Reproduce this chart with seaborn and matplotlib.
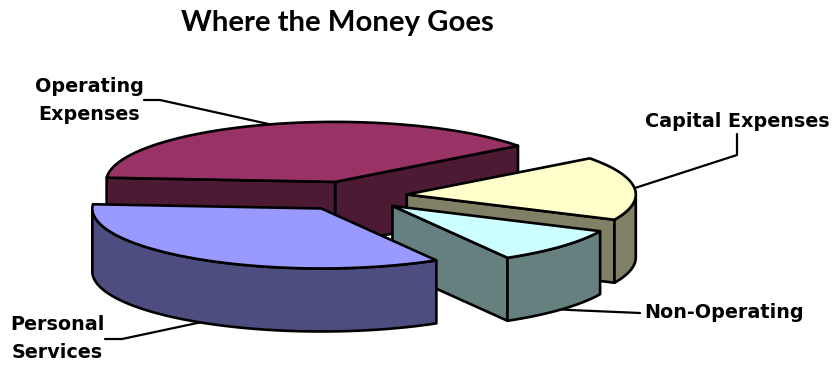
import numpy as np
import matplotlib
matplotlib.use("Agg")
import matplotlib.pyplot as plt
import seaborn as sns

# Budget shares, clockwise from the back-right of the pie
categories = ["Operating\nExpenses", "Capital Expenses", "Non-Operating", "Personal\nServices"]
shares = [38.6, 17.2, 9.7, 34.5]
top_colors = ["#993366", "#FFFFCC", "#CCFFFF", "#9999FF"]
side_colors = ["#4D1A33", "#808066", "#668080", "#4D4D80"]

# Elbows of the leader lines and label anchors, in figure pixels
elbows = [(160, 100), (737, 155), (570, 310), (122, 339)]
stubs = [(144, 100), (737, 134), (640, 313), (105, 339)]
label_pos = [(89, 101), (737, 122), (724, 313), (57, 339)]

WIDTH, HEIGHT = 834, 366
CENTER = (351, 196)      # pie centre in pixels
RX, RY = 229, 60         # projected radii in pixels
DEPTH = 63 / RY          # extrusion of the disc, in radii of the y axis
EXPLODE = 0.245
START_DEG = 37           # angle at which the first slice begins, counter-clockwise

sns.set_theme(style="white")
fig = plt.figure(figsize=(WIDTH / 100, HEIGHT / 100), dpi=100)
ax = fig.add_axes([0, 0, 1, 1])
ax.set_xlim(-CENTER[0] / RX, (WIDTH - CENTER[0]) / RX)
ax.set_ylim(-(HEIGHT - CENTER[1]) / RY, CENTER[1] / RY)
ax.axis("off")


def px(point):
    """Convert figure pixels (origin top-left) to disc coordinates."""
    return (point[0] - CENTER[0]) / RX, (CENTER[1] - point[1]) / RY


LW = 1.9
edge = dict(edgecolor="black", linewidth=LW, joinstyle="round")

spans = np.array(shares) / sum(shares) * 360

# Operating runs counter-clockwise from START_DEG, then Personal, Non-Operating, Capital
sequence = [0, 3, 2, 1]
bounds = {}
angle = START_DEG
for idx in sequence:
    bounds[idx] = (angle, angle + spans[idx])
    angle += spans[idx]

# Painter's order: back slice, right side, then the front slices
paint_order = [0, 1, 2, 3]


def draw_slice(idx):
    t0, t1 = np.radians(bounds[idx])
    mid = (t0 + t1) / 2
    cx, cy = EXPLODE * np.cos(mid), EXPLODE * np.sin(mid)
    t = np.linspace(t0, t1, 160)
    rim_x, rim_y = cx + np.cos(t), cy + np.sin(t)

    # Cut faces turned towards the viewer
    for a in (t0, t1):
        d = np.array([np.cos(a), np.sin(a)])
        cross = d[0] * np.sin(mid) - d[1] * np.cos(mid)
        if cross * np.sign(d[0]) > 0:
            ex, ey = cx + d[0], cy + d[1]
            ax.fill([cx, ex, ex, cx], [cy, ey, ey - DEPTH, cy - DEPTH],
                    facecolor=side_colors[idx], zorder=3, **edge)

    # Curved outer wall, only where it faces front
    front = np.sin(t) <= 0
    if front.any():
        fx, fy = rim_x[front], rim_y[front]
        ax.fill(np.r_[fx, fx[::-1]], np.r_[fy, fy[::-1] - DEPTH],
                facecolor=side_colors[idx], zorder=3, **edge)

    # Top face
    ax.fill(np.r_[cx, rim_x], np.r_[cy, rim_y],
            facecolor=top_colors[idx], zorder=3, **edge)


def draw_leader(idx):
    t0, t1 = np.radians(bounds[idx])
    mid = (t0 + t1) / 2
    x = (1 + EXPLODE) * np.cos(mid)
    y = (1 + EXPLODE) * np.sin(mid)
    if np.sin(mid) < 0:
        y -= DEPTH
    a, b = px(stubs[idx]), px(elbows[idx])
    ax.plot([a[0], b[0], x], [a[1], b[1], y], color="black", lw=1.6, zorder=2,
            solid_joinstyle="round")


for i in range(len(shares)):
    draw_leader(i)

for i in paint_order:
    draw_slice(i)

for i, name in enumerate(categories):
    lx, ly = px(label_pos[i])
    ax.text(lx, ly, name, ha="center", va="center", fontsize=13.8,
            fontweight="bold", family="DejaVu Sans", color="black",
            linespacing=1.6, zorder=5)

tx, ty = px((337, 23))
ax.text(tx, ty, "Where the Money Goes", ha="center", va="center", fontsize=21.2,
        fontweight="bold", family="Lato", color="black")

fig.savefig("out.png", dpi=100)
